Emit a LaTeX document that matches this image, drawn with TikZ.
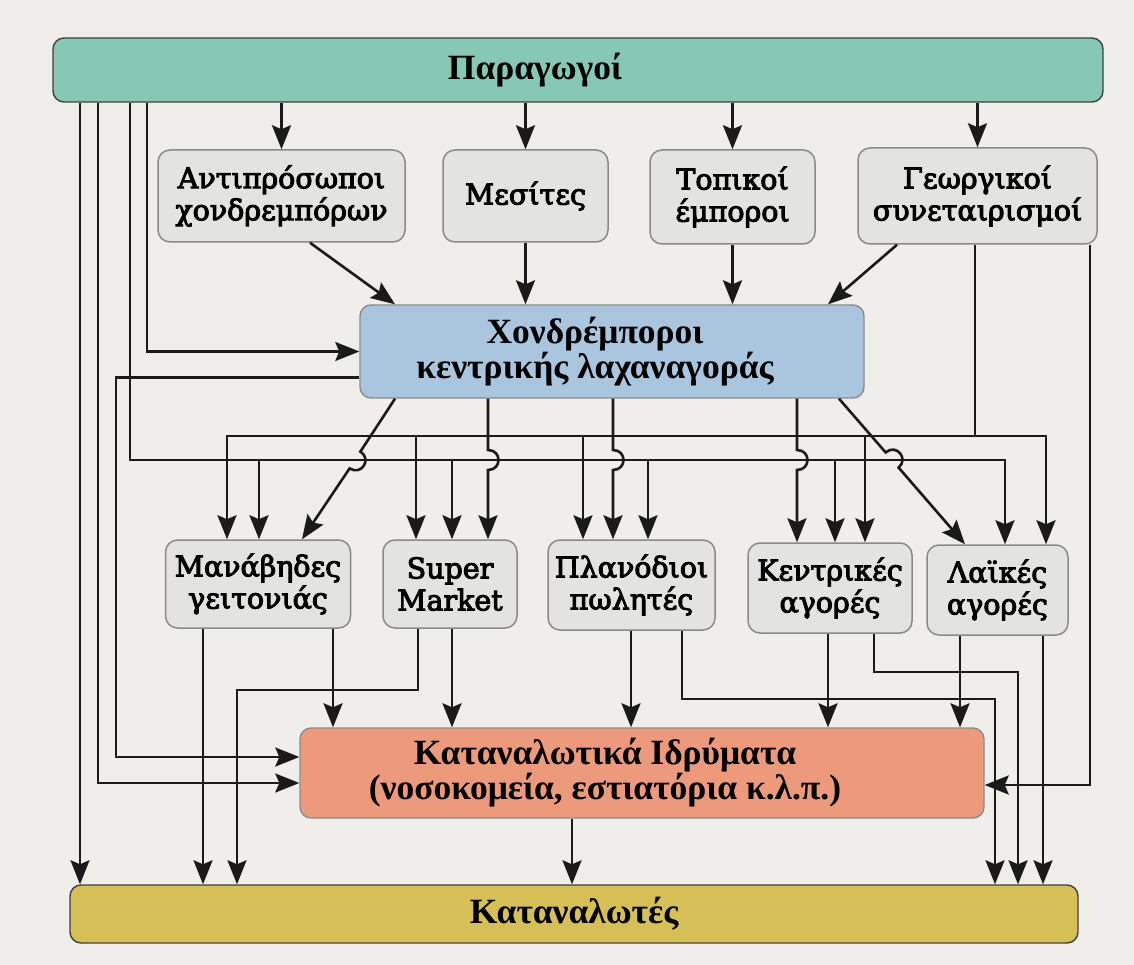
\documentclass[tikz,border=0pt]{standalone}
\usepackage{fontspec}
\setmainfont{Liberation Serif}
\newfontfamily\gfont{DejaVu Serif}[FakeBold=3.5]
\usetikzlibrary{arrows.meta,calc}
\definecolor{bgc}{HTML}{EFEEEA}
\definecolor{tealc}{HTML}{86C8B4}
\definecolor{bluec}{HTML}{A9C6DE}
\definecolor{orangec}{HTML}{EC9A7B}
\definecolor{yellowc}{HTML}{D6BF57}
\definecolor{grayf}{HTML}{E3E3E1}
\definecolor{grayd}{HTML}{8A8A88}
\definecolor{linec}{HTML}{1A1A1A}
\begin{document}
\begin{tikzpicture}[x=1pt,y=-1pt,
  bar/.style={draw=black!75, line width=1.4pt, rounded corners=11pt, inner sep=0pt,
    align=center, font=\bfseries\fontsize{35.5}{31}\selectfont},
  gbox/.style={draw=grayd, fill=grayf, line width=1.5pt, rounded corners=12pt, inner sep=0pt,
    align=center, font=\gfont\fontsize{28.5}{32}\selectfont},
  ln/.style={line width=2.6pt, draw=linec},
  arr/.style={ln, -{Stealth[length=24pt,width=19pt,inset=4pt]}}]
\fill[bgc] (0,0) rectangle (1134,965);
\useasboundingbox (0,0) rectangle (1134,965);

% main bars and boxes
\node[bar, fill=tealc, minimum width=1050pt, minimum height=64pt] (top) at (578,70) {Παραγωγοί\hspace*{86pt}};
\node[bar, fill=yellowc, minimum width=1008pt, minimum height=58pt] (bot) at (574,914) {Καταναλωτές};
\node[bar, draw=black!45, fill=bluec, minimum width=504pt, minimum height=93pt] (cen) at (612,351.5)
  {Χονδρέμποροι\hspace*{34pt}\\κεντρικής λαχαναγοράς\hspace*{34pt}};
\node[bar, draw=black!45, fill=orangec, minimum width=684pt, minimum height=90pt] (kat) at (642,773)
  {\fontsize{35.5}{32}\selectfont Καταναλωτικά Ιδρύματα\hspace*{74pt}\\(νοσοκομεία, εστιατόρια κ.λ.π.)\hspace*{74pt}};

% intermediaries
\node[gbox, minimum width=247pt, minimum height=92pt] (ant) at (281.5,196) {Αντιπρόσωποι\\χονδρεμπόρων};
\node[gbox, minimum width=165pt, minimum height=92pt] (mes) at (525.5,196) {Μεσίτες};
\node[gbox, minimum width=165pt, minimum height=94pt] (tp) at (732.5,197) {Τοπικοί\\έμποροι};
\node[gbox, minimum width=239pt, minimum height=96pt] (geo) at (977.5,196) {Γεωργικοί\\συνεταιρισμοί};

% retailers
\node[gbox, minimum width=185pt, minimum height=88pt] (man) at (258,584) {Μανάβηδες\\γειτονιάς};
\node[gbox, minimum width=134pt, minimum height=88pt] (sup) at (450,584) {Super\\Market};
\node[gbox, minimum width=167pt, minimum height=90pt] (pla) at (631.5,585) {Πλανόδιοι\\πωλητές};
\node[gbox, minimum width=164pt, minimum height=90pt] (ken) at (830,588) {Κεντρικές\\αγορές};
\node[gbox, minimum width=141pt, minimum height=90pt] (lai) at (997.5,590) {Λαϊκές\\αγορές};

% producers -> intermediaries
\draw[arr] (top.south -| ant.north) -- (ant.north);
\draw[arr] (top.south -| mes.north) -- (mes.north);
\draw[arr] (top.south -| tp.north) -- (tp.north);
\draw[arr] (top.south -| geo.north) -- (geo.north);

% intermediaries -> central market
\draw[arr] (ant.south -| 310,0) -- (cen.north -| 395,0);
\draw[arr] (mes.south) -- (cen.north -| mes.south);
\draw[arr] (tp.south) -- (cen.north -| tp.south);
\draw[arr] (geo.south -| 897,0) -- (cen.north -| 828,0);

% producers: left side lines
\draw[arr] (top.south -| 80,0) -- (bot.north -| 80,0);
\draw[arr] (top.south -| 98,0) |- ($(kat.west)+(0,10)$);
\draw[arr] (top.south -| 147,0) |- (cen.west);
\draw[arr] ($(cen.west)+(0,26)$) -| (116,600) |- ($(kat.west)+(0,-16)$);

% lower bus (producers -> retailers)
\draw[arr] (top.south -| 130,0) |- (1005,460) -- (lai.north -| 1005,0);
\foreach \x/\n in {259/man,452/sup,648/pla,835/ken}
  \draw[arr] (\x,460) -- (\n.north -| \x,0);

% upper bus (cooperatives -> retailers)
\draw[ln] (geo.south -| 975,0) -- (975,436);
\draw[arr] (975,436) -| (lai.north -| 1046,0);
\draw[arr] (975,436) -| (man.north -| 227,0);
\foreach \x/\n in {416/sup,583/pla,865/ken}
  \draw[arr] (\x,436) -- (\n.north -| \x,0);

% central market -> retailers (with hops over the lower bus)
\draw[arr] (cen.south -| 395,0) -- (360.4,451.6) .. controls (372.2,459.2) and (361.4,476) .. (349.6,468.4) -- (man.north -| 302,0);
\draw[arr] (cen.south -| 488,0) -- (488,450) .. controls (502,450) and (502,470) .. (488,470) -- (sup.north -| 488,0);
\draw[arr] (cen.south -| 613,0) -- (613,450) .. controls (627,450) and (627,470) .. (613,470) -- (pla.north -| 613,0);
\draw[arr] (cen.south -| 797,0) -- (797,450) .. controls (811,450) and (811,470) .. (797,470) -- (ken.north -| 797,0);
\draw[arr] (cen.south -| 839,0) -- (885.6,452.4) .. controls (896.2,443.3) and (909.2,458.5) .. (898.6,467.6) -- (lai.north -| 965,0);

% retailers -> institutions / consumers
\draw[arr] (man.south -| 203,0) -- (bot.north -| 203,0);
\draw[arr] (man.south -| 333,0) -- (kat.north -| 333,0);
\draw[arr] (sup.south -| 418,0) |- (237,690) -- (bot.north -| 237,0);
\draw[arr] (sup.south -| 452,0) -- (kat.north -| 452,0);
\draw[arr] (pla.south -| 631,0) -- (kat.north -| 631,0);
\draw[arr] (pla.south -| 682,0) |- (995,699) -- (bot.north -| 995,0);
\draw[arr] (ken.south -| 828,0) -- (kat.north -| 828,0);
\draw[arr] (ken.south -| 874,0) |- (1018,672) -- (bot.north -| 1018,0);
\draw[arr] (lai.south -| 960,0) -- (kat.north -| 960,0);
\draw[arr] (lai.south -| 1043,0) -- (bot.north -| 1043,0);
\draw[arr] (geo.south -| 1090,0) |- ($(kat.east)+(0,12)$);
\draw[arr] (kat.south -| 572,0) -- (bot.north -| 572,0);
\end{tikzpicture}
\end{document}
